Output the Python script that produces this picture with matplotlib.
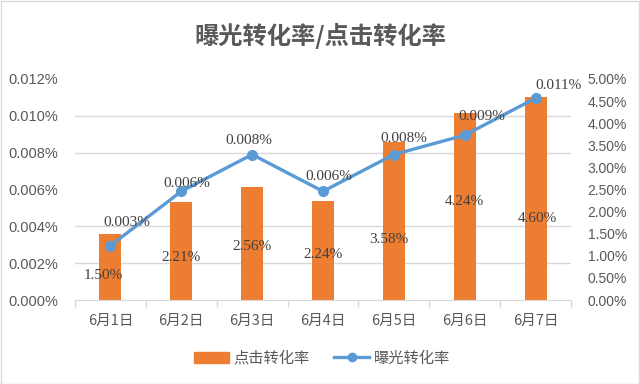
import numpy as np
import matplotlib
matplotlib.use('Agg')
import matplotlib.pyplot as plt
from matplotlib.ticker import FixedLocator, FuncFormatter
from matplotlib.patches import Rectangle
from matplotlib.lines import Line2D

plt.rcParams['font.family'] = ['Noto Sans CJK SC', 'DejaVu Sans']

# 数据
dates = ['6月1日', '6月2日', '6月3日', '6月4日', '6月5日', '6月6日', '6月7日']
click_rate = [1.50, 2.21, 2.56, 2.24, 3.58, 4.24, 4.60]            # 点击转化率 (%)，右轴
expo_rate = [0.00295, 0.0059, 0.0079, 0.0059, 0.0079, 0.00895, 0.01096]  # 曝光转化率 (%)，左轴

# 数据标签偏移（像素）
click_label_off = [(-7, -42), (0, -55), (0, -60), (0, -54), (-5, -98), (0, -89), (2, -122)]
expo_label_off = [(16, 23), (6, 8), (-3, 14), (6, 15), (10, 16), (17, 19), (23, 13)]

ORANGE = '#ED7D31'
BLUE = '#5B9BD5'
GRID = '#D9D9D9'
TXT = '#595959'

fig = plt.figure(figsize=(6.4, 3.84), dpi=100)
ax = fig.add_axes([75 / 640, 1 - 300 / 384, 496 / 640, 221 / 384])
ax2 = ax.twinx()

x = np.arange(len(dates))

# 柱子在右轴，放在下层
ax2.bar(x, click_rate, width=0.31, color=ORANGE, zorder=2)
ax2.set_ylim(0, 5)
ax2.yaxis.set_major_locator(FixedLocator(np.arange(0, 5.01, 0.5)))
ax2.yaxis.set_major_formatter(FuncFormatter(lambda v, p: f'{v:.2f}%'))
ax2.yaxis.set_minor_locator(FixedLocator(np.linspace(0, 5, 7)))
ax2.grid(axis='y', which='minor', color=GRID, linewidth=1, zorder=0)
ax2.set_axisbelow(True)
ax2.tick_params(axis='y', which='both', length=0, labelsize=10, labelcolor=TXT, pad=12)
for lab in ax2.get_yticklabels():
    lab.set_family('Liberation Sans')
for s in ax2.spines.values():
    s.set_visible(False)

for i, v in enumerate(click_rate):
    ax2.annotate(f'{v:.2f}%', xy=(i, v), xytext=click_label_off[i], textcoords='offset pixels',
                 ha='center', va='center', fontsize=11, color='#404040',
                 family='Liberation Serif', zorder=5)

# 折线在左轴，放在上层
ax.set_zorder(ax2.get_zorder() + 1)
ax.patch.set_visible(False)
ax.plot(x, expo_rate, color=BLUE, linewidth=2.4, marker='o', markersize=7, zorder=4)
ax.set_ylim(0, 0.012)
ax.yaxis.set_major_locator(FixedLocator(np.arange(0, 0.01201, 0.002)))
ax.yaxis.set_major_formatter(FuncFormatter(lambda v, p: f'{v:.3f}%'))
ax.tick_params(axis='y', length=0, labelsize=10.5, labelcolor=TXT, pad=12)
for lab in ax.get_yticklabels():
    lab.set_family('Liberation Sans')

for i, v in enumerate(expo_rate):
    ax.annotate(f'{v:.3f}%', xy=(i, v), xytext=expo_label_off[i], textcoords='offset pixels',
                ha='center', va='center', fontsize=11, color='#404040',
                family='Liberation Serif', zorder=6)

ax.set_xlim(-0.5, len(dates) - 0.5)
ax.set_xticks(x)
ax.set_xticklabels(dates)
ax.xaxis.set_minor_locator(FixedLocator(np.arange(-0.5, len(dates), 1.0)))
ax.tick_params(axis='x', which='major', length=0, labelsize=10.5, labelcolor=TXT, pad=10)
ax.tick_params(axis='x', which='minor', length=5, color=GRID, width=1)
for side in ['left', 'right', 'top']:
    ax.spines[side].set_visible(False)
ax.spines['bottom'].set_color(GRID)

# 标题
fig.text(0.5, 1 - 36 / 384, '曝光转化率/点击转化率', ha='center', va='center',
         fontsize=17.5, fontweight='bold', color=TXT)

# 图例
handles = [Rectangle((0, 0), 1, 1, color=ORANGE),
           Line2D([], [], color=BLUE, linewidth=2.4, marker='o', markersize=6)]
fig.legend(handles, ['点击转化率', '曝光转化率'], loc='center',
           bbox_to_anchor=(322 / 640, 1 - 358 / 384), ncol=2, frameon=False,
           fontsize=11, handlelength=2.3, handletextpad=0.3, columnspacing=1.6,
           labelcolor=TXT)

# 外框
fig.patches.append(Rectangle((0.001, 0.001), 0.997, 0.997, transform=fig.transFigure,
                             fill=False, edgecolor=GRID, linewidth=1))

fig.savefig('out.png', dpi=100)
